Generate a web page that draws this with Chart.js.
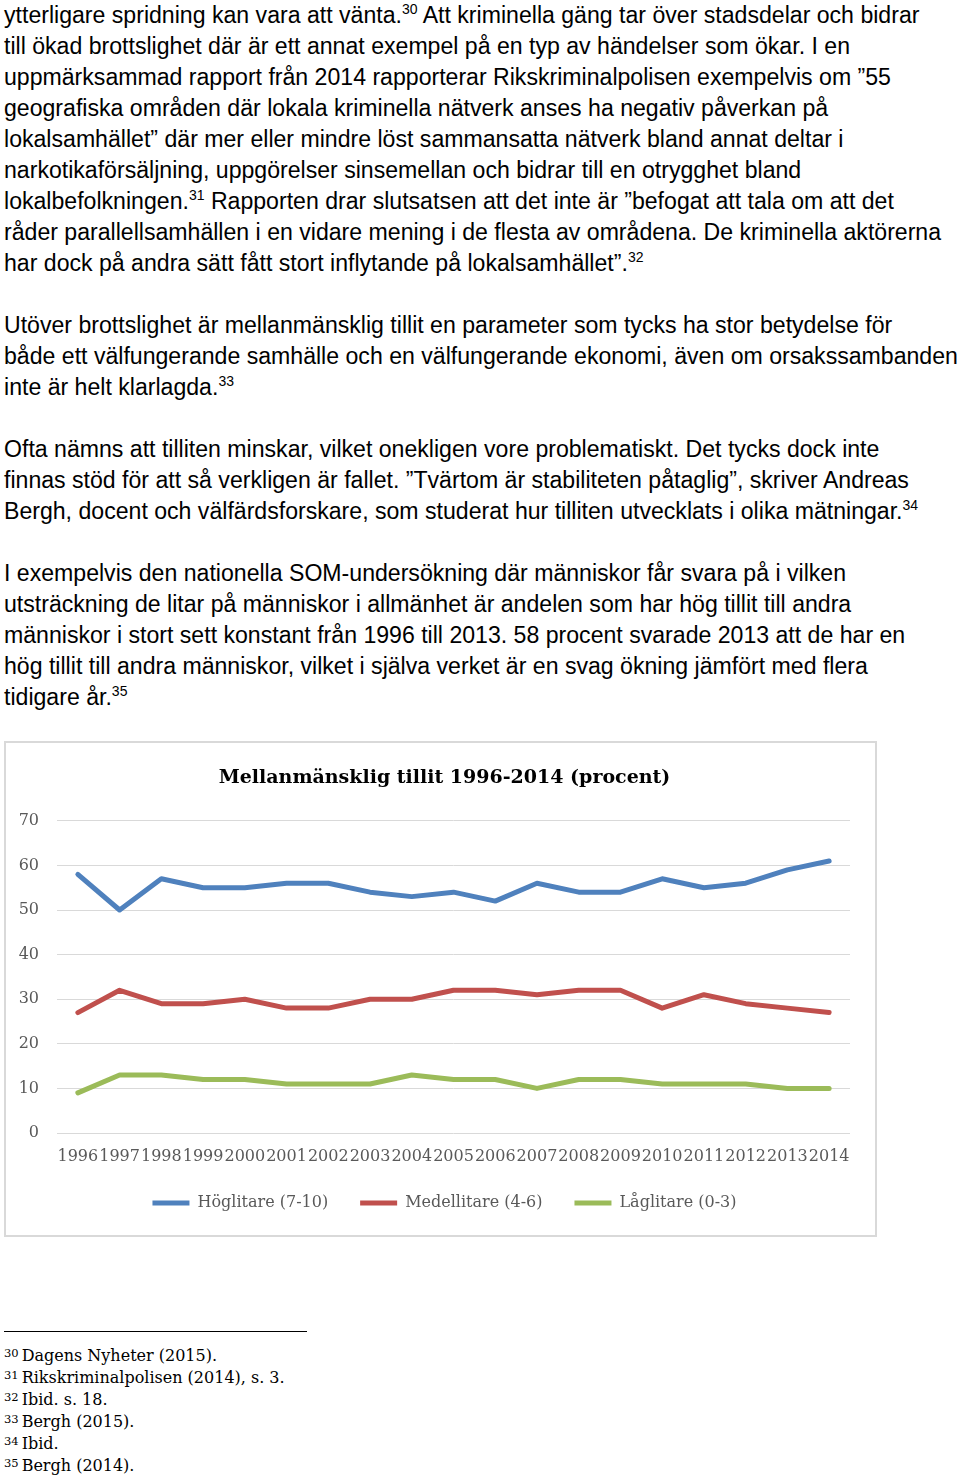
<!DOCTYPE html>
<html>
<head>
<meta charset="utf-8">
<script src="https://cdn.jsdelivr.net/npm/chart.js@4.4.1/dist/chart.umd.min.js"></script>
<style>
html, body { margin: 0; padding: 0; background: #fff; }
body { width: 960px; height: 1478px; position: relative; overflow: hidden; font-family: "Liberation Sans", Arial, sans-serif; color: #000; }
.text { position: absolute; left: 4px; top: 0; font-size: 23.1px; line-height: 31px; white-space: nowrap; }
.text p { margin: 0 0 31px 0; }
.text sup { font-size: 14px; line-height: 0; vertical-align: 9px; }
.chartbox { position: absolute; left: 4px; top: 741px; width: 869px; height: 492px; border: 2px solid #d9d9d9; }
.rule { position: absolute; left: 4px; top: 1331px; width: 303px; border-top: 1px solid #000; }
.notes { position: absolute; left: 4px; top: 1345px; font-family: "DejaVu Serif", serif; font-size: 16px; line-height: 22px; white-space: nowrap; }
.notes sup { font-size: 11.5px; line-height: 0; vertical-align: 4px; margin-right: 3px; }
</style>
</head>
<body>
<div class="text">
<p>ytterligare spridning kan vara att vänta.<sup>30</sup> Att kriminella gäng tar över stadsdelar och bidrar<br>
till ökad brottslighet där är ett annat exempel på en typ av händelser som ökar. I en<br>
uppmärksammad rapport från 2014 rapporterar Rikskriminalpolisen exempelvis om ”55<br>
geografiska områden där lokala kriminella nätverk anses ha negativ påverkan på<br>
lokalsamhället” där mer eller mindre löst sammansatta nätverk bland annat deltar i<br>
narkotikaförsäljning, uppgörelser sinsemellan och bidrar till en otrygghet bland<br>
lokalbefolkningen.<sup>31</sup> Rapporten drar slutsatsen att det inte är ”befogat att tala om att det<br>
råder parallellsamhällen i en vidare mening i de flesta av områdena. De kriminella aktörerna<br>
har dock på andra sätt fått stort inflytande på lokalsamhället”.<sup>32</sup></p>
<p>Utöver brottslighet är mellanmänsklig tillit en parameter som tycks ha stor betydelse för<br>
både ett välfungerande samhälle och en välfungerande ekonomi, även om orsakssambanden<br>
inte är helt klarlagda.<sup>33</sup></p>
<p>Ofta nämns att tilliten minskar, vilket onekligen vore problematiskt. Det tycks dock inte<br>
finnas stöd för att så verkligen är fallet. ”Tvärtom är stabiliteten påtaglig”, skriver Andreas<br>
Bergh, docent och välfärdsforskare, som studerat hur tilliten utvecklats i olika mätningar.<sup>34</sup></p>
<p>I exempelvis den nationella SOM-undersökning där människor får svara på i vilken<br>
utsträckning de litar på människor i allmänhet är andelen som har hög tillit till andra<br>
människor i stort sett konstant från 1996 till 2013. 58 procent svarade 2013 att de har en<br>
hög tillit till andra människor, vilket i själva verket är en svag ökning jämfört med flera<br>
tidigare år.<sup>35</sup></p>
</div>

<div class="chartbox"><canvas id="tillitChart" width="869" height="492"></canvas></div>

<div class="rule"></div>
<div class="notes">
<div><sup>30</sup>Dagens Nyheter (2015).</div>
<div><sup>31</sup>Rikskriminalpolisen (2014), s. 3.</div>
<div><sup>32</sup>Ibid. s. 18.</div>
<div><sup>33</sup>Bergh (2015).</div>
<div><sup>34</sup>Ibid.</div>
<div><sup>35</sup>Bergh (2014).</div>
</div>

<script>
// ---- data ----
const years  = ['1996', '1997', '1998', '1999', '2000', '2001', '2002', '2003', '2004', '2005',
                '2006', '2007', '2008', '2009', '2010', '2011', '2012', '2013', '2014'];
const hogLitare   = [58, 50, 57, 55, 55, 56, 56, 54, 53, 54, 52, 56, 54, 54, 57, 55, 56, 59, 61];
const medelLitare = [27, 32, 29, 29, 30, 28, 28, 30, 30, 32, 32, 31, 32, 32, 28, 31, 29, 28, 27];
const lagLitare   = [9, 13, 13, 12, 12, 11, 11, 11, 13, 12, 12, 10, 12, 12, 11, 11, 11, 10, 10];
const yTicks      = [0, 10, 20, 30, 40, 50, 60, 70];

const serif    = 'DejaVu Serif';
const tickGrey = '#595959';

function lineSet(label, data, color) {
    return {
        label: label,
        data: data,
        borderColor: color,
        backgroundColor: color,
        borderWidth: 5,
        borderCapStyle: 'round',
        borderJoinStyle: 'round',
        pointRadius: 0,
        pointHoverRadius: 0,
        tension: 0,
        fill: false
    };
}

new Chart(document.getElementById('tillitChart'), {
    type: 'line',
    data: {
        labels: years,
        datasets: [
            lineSet('Höglitare (7-10)', hogLitare, '#4f81bd'),
            lineSet('Medellitare (4-6)', medelLitare, '#c0504d'),
            lineSet('Låglitare (0-3)', lagLitare, '#9bbb59')
        ]
    },
    options: {
        responsive: false,
        devicePixelRatio: 1,
        animation: false,
        layout: { padding: { left: 8, bottom: 14 } },
        plugins: {
            title: {
                display: true,
                text: 'Mellanmänsklig tillit 1996-2014 (procent)',
                color: '#000',
                font: { family: serif, size: 19, weight: 'bold' },
                padding: { top: 24, bottom: 31 }
            },
            legend: {
                position: 'bottom',
                labels: {
                    usePointStyle: true,
                    pointStyle: 'line',
                    pointStyleWidth: 37,
                    boxWidth: 37,
                    padding: 32,
                    color: tickGrey,
                    font: { family: serif, size: 16 }
                }
            },
            tooltip: { enabled: false }
        },
        scales: {
            x: {
                offset: true,
                grid: { display: false, drawTicks: false },
                border: { display: false },
                ticks: {
                    color: tickGrey, font: { family: serif, size: 16 },
                    padding: 14, autoSkip: false, maxRotation: 0, minRotation: 0
                },
                afterFit: s => { s.height = 30; }
            },
            y: {
                min: yTicks[0],
                max: yTicks[yTicks.length - 1],
                grid: { color: '#d9d9d9', lineWidth: 1, drawTicks: false },
                border: { display: false },
                ticks: { stepSize: 10, padding: 18, color: tickGrey, font: { family: serif, size: 16 } },
                afterFit: s => { s.width = 43; }
            },
            // empty right axis, only keeps the plot clear of the right edge
            yRight: {
                position: 'right',
                grid: { display: false, drawTicks: false },
                border: { display: false },
                ticks: { display: false },
                afterFit: s => { s.width = 25; }
            }
        }
    }
});
</script>
</body>
</html>
